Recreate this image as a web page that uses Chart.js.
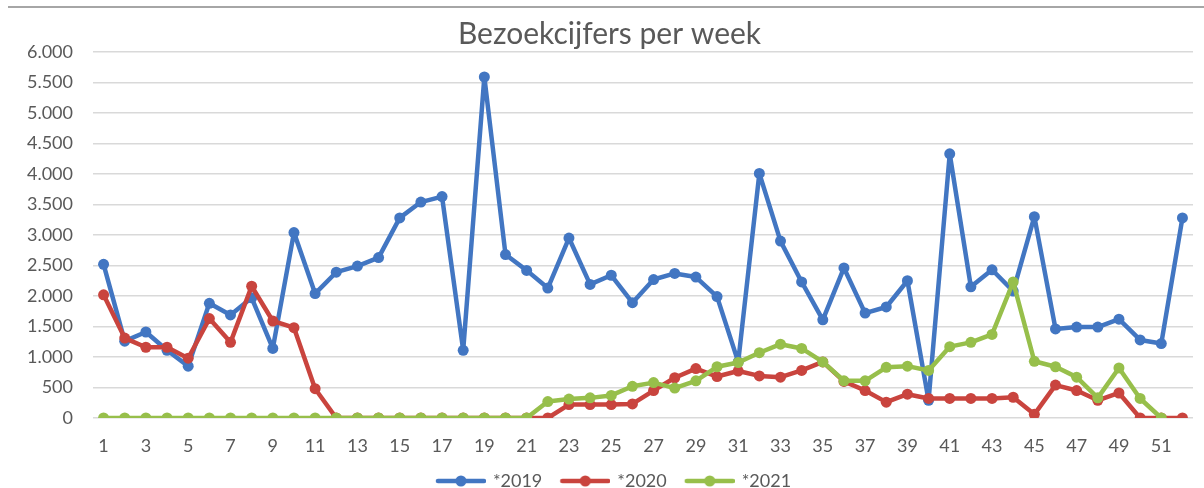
<!DOCTYPE html>
<html>
<head>
<meta charset="utf-8">
<script src="https://cdn.jsdelivr.net/npm/chart.js@4.4.1/dist/chart.umd.min.js"></script>
<style>
  body { margin: 0; background: #fff; }
  #wrap { position: relative; width: 1204px; height: 488px; }
  #topline { position: absolute; left: 8px; right: 0; top: 6px; height: 2px; background: #a6a6a6; }
</style>
</head>
<body>
<div id="wrap">
  <div id="topline"></div>
  <canvas id="myChart" width="1204" height="488"></canvas>
</div>
<script>
// weeks 1..52
const weeks = ['1','2','3','4','5','6','7','8','9','10','11','12','13','14','15','16','17','18','19','20',
  '21','22','23','24','25','26','27','28','29','30','31','32','33','34','35','36','37','38','39','40',
  '41','42','43','44','45','46','47','48','49','50','51','52'];

const visits2019 = [2520, 1260, 1410, 1110, 850, 1880, 1690, 1970, 1140, 3040,
  2040, 2390, 2490, 2630, 3280, 3540, 3630, 1110, 5590, 2680,
  2420, 2130, 2950, 2190, 2340, 1890, 2270, 2370, 2310, 1990,
  920, 4010, 2900, 2230, 1610, 2460, 1720, 1820, 2250, 290,
  4330, 2150, 2430, 2080, 3300, 1460, 1490, 1490, 1620, 1280,
  1220, 3280];

const visits2020 = [2020, 1310, 1160, 1160, 980, 1630, 1240, 2160, 1590, 1480,
  480, 0, 0, 0, 0, 0, 0, 0, 0, 0,
  0, 0, 220, 220, 220, 230, 450, 660, 810, 680,
  770, 690, 670, 780, 920, 600, 450, 260, 390, 320,
  320, 320, 320, 340, 60, 540, 450, 290, 410, 0,
  0, 0];

const visits2021 = [0, 0, 0, 0, 0, 0, 0, 0, 0, 0,
  0, 0, 0, 0, 0, 0, 0, 0, 0, 0,
  0, 270, 310, 330, 370, 520, 580, 490, 610, 840,
  910, 1070, 1210, 1140, 920, 610, 610, 830, 850, 780,
  1170, 1240, 1370, 2230, 930, 840, 670, 330, 820, 320,
  0, null];

const seriesNames = ['*2019', '*2020', '*2021'];
const seriesColors = ['#4276c2', '#c9443e', '#97bf4b'];

const textGray = '#595959';
const fontFam = 'Lato, "Open Sans", sans-serif';

function thousands(v) {
  return String(v).replace(/\B(?=(\d{3})+(?!\d))/g, '.');
}

// legend icon: line with a dot in the middle, like Excel (left margin for item spacing)
function legendIcon(color) {
  const c = document.createElement('canvas');
  c.width = 60; c.height = 12;
  const g = c.getContext('2d');
  g.strokeStyle = color; g.lineWidth = 4.5; g.lineCap = 'round';
  g.beginPath(); g.moveTo(12, 6); g.lineTo(58, 6); g.stroke();
  g.fillStyle = color;
  g.beginPath(); g.arc(35, 6, 5.5, 0, Math.PI * 2); g.fill();
  return c;
}

function makeSet(i, values, order) {
  return {
    label: seriesNames[i],
    data: values,
    borderColor: seriesColors[i],
    backgroundColor: seriesColors[i],
    borderWidth: 4.5,
    borderJoinStyle: 'round',
    borderCapStyle: 'round',
    pointRadius: 5.5,
    pointHoverRadius: 5.5,
    pointBorderWidth: 0,
    tension: 0,
    order: order
  };
}

const ctx = document.getElementById('myChart');

new Chart(ctx, {
  type: 'line',
  data: {
    labels: weeks,
    datasets: [
      makeSet(0, visits2019, 2),
      makeSet(1, visits2020, 1),
      makeSet(2, visits2021, 0)
    ]
  },
  options: {
    responsive: false,
    animation: false,
    layout: { padding: { left: 26, right: 11, top: 0, bottom: -12 } },
    plugins: {
      title: {
        display: true,
        text: 'Bezoekcijfers per week',
        color: textGray,
        font: { family: fontFam, size: 30, weight: 'normal' },
        padding: { top: 16, bottom: 0 }
      },
      legend: {
        position: 'bottom',
        labels: {
          color: textGray,
          font: { family: fontFam, size: 18 },
          usePointStyle: true,
          pointStyleWidth: 56,
          boxHeight: 12,
          padding: 10,
          generateLabels: function (chart) {
            return chart.data.datasets.map(function (ds, i) {
              return {
                text: ds.label,
                pointStyle: legendIcon(ds.borderColor),
                fillStyle: ds.borderColor,
                strokeStyle: ds.borderColor,
                lineWidth: 0,
                hidden: false,
                datasetIndex: i,
                fontColor: textGray
              };
            });
          }
        }
      },
      tooltip: { enabled: false }
    },
    scales: {
      x: {
        offset: true,
        afterFit: function (scale) { scale.height = 44; },
        grid: { display: false, drawTicks: false },
        border: { display: false },
        ticks: {
          color: textGray,
          font: { family: fontFam, size: 18 },
          maxRotation: 0,
          autoSkip: false,
          padding: 17,
          callback: function (v, i) { return i % 2 === 0 ? this.getLabelForValue(v) : ''; }
        }
      },
      y: {
        min: 0,
        max: 6000,
        afterFit: function (scale) { scale.width = 67; },
        grid: { color: '#d9d9d9', lineWidth: 1.5, drawTicks: false },
        border: { display: false },
        ticks: {
          stepSize: 500,
          color: textGray,
          font: { family: fontFam, size: 18 },
          padding: 20,
          callback: function (v) { return thousands(v); }
        }
      }
    }
  }
});
</script>
</body>
</html>
